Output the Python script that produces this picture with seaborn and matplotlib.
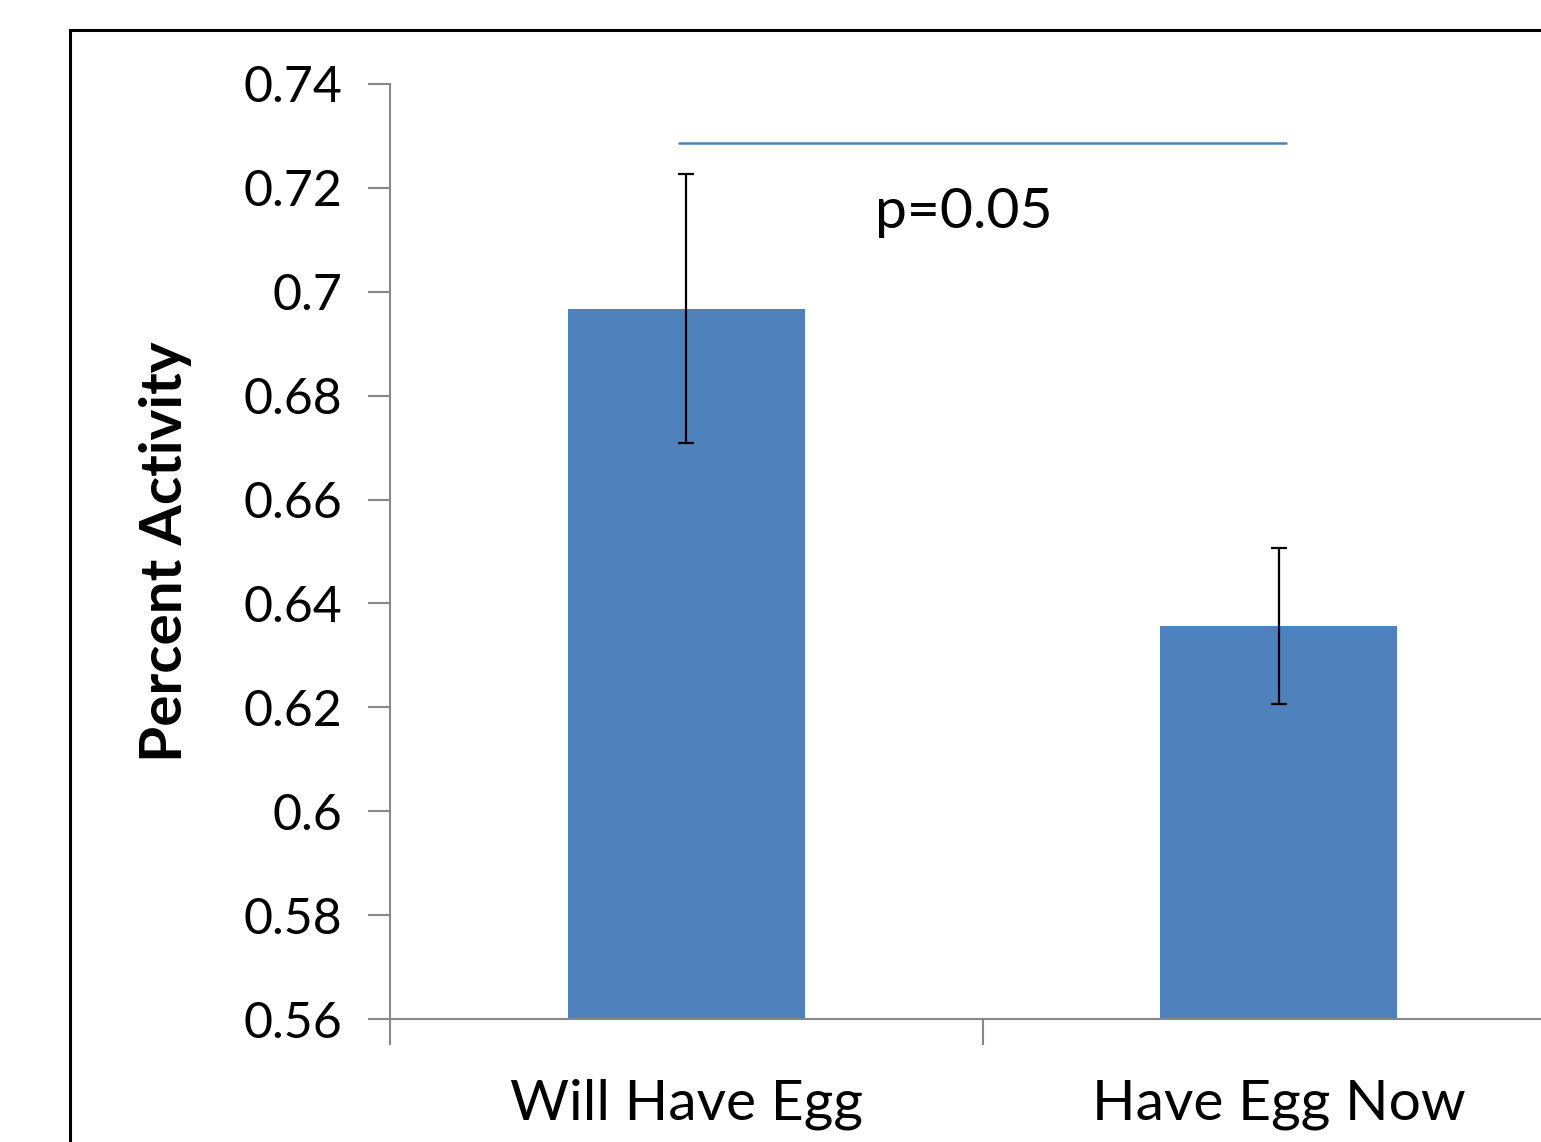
import matplotlib
matplotlib.use("Agg")
import matplotlib.pyplot as plt
import seaborn as sns
import pandas as pd
from matplotlib.patches import Rectangle

categories = ["Will Have Egg", "Have Egg Now"]
values = [0.6967, 0.6357]
errors = [0.0259, 0.0150]
y_ticks = [0.56, 0.58, 0.6, 0.62, 0.64, 0.66, 0.68, 0.7, 0.72, 0.74]
y_tick_labels = ["0.56", "0.58", "0.6", "0.62", "0.64", "0.66", "0.68", "0.7", "0.72", "0.74"]
sig_y = 0.7286
sig_label = "p=0.05"
y_label = "Percent Activity"

sns.set_theme(style="white")
plt.rcParams["font.family"] = ["Lato", "DejaVu Sans"]
plt.rcParams["text.color"] = "black"
plt.rcParams["xtick.labelcolor"] = "black"
plt.rcParams["ytick.labelcolor"] = "black"
plt.rcParams["axes.labelcolor"] = "black"

W, H = 1541, 1142
fig = plt.figure(figsize=(W / 100, H / 100), dpi=100)
ax = fig.add_axes([390 / W, (H - 1019) / H, 1185 / W, 935 / H])

df = pd.DataFrame({"cat": categories, "val": values})
sns.barplot(data=df, x="cat", y="val", color="#4F81BD", saturation=1, width=0.4,
            ax=ax, errorbar=None, linewidth=0)
ax.errorbar(range(len(categories)), values, yerr=errors, fmt="none",
            ecolor="black", elinewidth=1.6, capsize=6, capthick=1.6, zorder=5)

ax.set_xlim(-0.5, 1.5)
ax.set_ylim(0.56, 0.74)
ax.set_yticks(y_ticks)
ax.set_yticklabels(y_tick_labels, fontsize=36)
ax.set_xticks(range(len(categories)))
ax.set_xticklabels(categories, fontsize=41)
ax.set_xticks([-0.5, 0.5, 1.5], minor=True)
ax.tick_params(axis="x", which="major", length=0, pad=43)
ax.tick_params(axis="x", which="minor", length=19, width=1.5, color="#888888", direction="out", bottom=True)
ax.tick_params(axis="y", length=16, width=1.5, color="#888888", direction="out", left=True, pad=18.5)
ax.set_xlabel("")
ax.set_ylabel(y_label, fontsize=42, fontweight="bold")
ax.yaxis.set_label_coords(-0.167, 0.5)

for s in ["top", "right"]:
    ax.spines[s].set_visible(False)
for s in ["left", "bottom"]:
    ax.spines[s].set_color("#888888")
    ax.spines[s].set_linewidth(1.5)

ax.plot([-0.012, 1.013], [sig_y, sig_y], color="#4F81BD", lw=1.8, clip_on=False)
ax.text(0.468, 0.7153, sig_label, fontsize=41, ha="center", va="center")

frame = Rectangle((70 / W, -0.1), 1.2, (H - 30) / H + 0.1, transform=fig.transFigure,
                  fill=False, edgecolor="black", linewidth=2.2, clip_on=False)
fig.patches.append(frame)

fig.savefig("out.png", dpi=100)
